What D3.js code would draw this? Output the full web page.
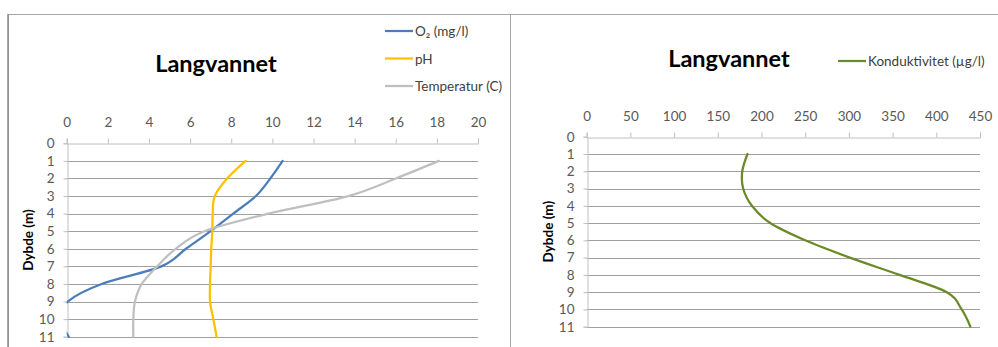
<!DOCTYPE html>
<html lang="no">
<head>
  <meta charset="UTF-8">
  <title>Langvannet</title>
  <script src="https://d3js.org/d3.v7.min.js"></script>
  <style>
    body { margin: 0; background: #fff; }
    svg { display: block; font-family: Lato, "Open Sans", sans-serif; }
  </style>
</head>
<body>
  <div id="chart"></div>
  <script>
    // data
    const depths = [1, 2, 3, 4, 5, 6, 7, 8, 9, 10, 11];
    const o2 = [10.5, 9.9, 9.2, 8.1, 7.0, 5.8, 4.6, 1.7, 0.05, -0.3, 0.1];
    const ph = [8.7, 7.8, 7.2, 7.1, 7.08, 7.03, 7.0, 6.97, 6.97, 7.13, 7.29];
    const temp = [18.1, 16.0, 13.7, 9.8, 6.7, 5.3, 4.4, 3.65, 3.32, 3.24, 3.24];
    const kond = [184, 178, 179, 189, 210, 250, 301, 358, 412, 429, 439];

    const depthTicks = d3.range(0, 12);
    const leftTicks = d3.range(0, 21, 2);
    const rightTicks = d3.range(0, 451, 50);

    const leftSeries = [
      { name: "O₂ (mg/l)", values: o2, color: "#4a7ebb" },
      { name: "pH", values: ph, color: "#ffc000" },
      { name: "Temperatur (C)", values: temp, color: "#bfbfbf" }
    ];
    const rightSeries = [
      { name: "Konduktivitet (µg/l)", values: kond, color: "#6b8a2a" }
    ];

    const width = 998, height = 347;
    const svg = d3.select("#chart").append("svg")
      .attr("width", width)
      .attr("height", height);

    // chart borders
    svg.append("path")
      .attr("d", "M8.5,347 V14.5 H510.5 V347")
      .attr("fill", "none").attr("stroke", "#a6a6a6").attr("stroke-width", 1);
    svg.append("line")
      .attr("x1", 8).attr("x2", 8).attr("y1", 14).attr("y2", 347)
      .attr("stroke", "#8c8c8c").attr("stroke-width", 1.5);
    svg.append("line")
      .attr("x1", 510).attr("x2", 998).attr("y1", 14.5).attr("y2", 14.5)
      .attr("stroke", "#a6a6a6");

    function drawChart(cfg) {
      const g = svg.append("g");
      const x = d3.scaleLinear().domain(cfg.xDomain).range(cfg.xRange);
      const y = d3.scaleLinear().domain([0, 11]).range(cfg.yRange);

      // gridlines
      g.append("g").selectAll("line")
        .data(depthTicks.filter(d => d > 0))
        .join("line")
        .attr("x1", cfg.xRange[0]).attr("x2", cfg.xRange[1])
        .attr("y1", d => Math.round(y(d)) + 0.5).attr("y2", d => Math.round(y(d)) + 0.5)
        .attr("stroke", "#a0a0a0");

      // top axis
      const xAxis = d3.axisTop(x).tickValues(cfg.xTicks).tickSize(5).tickPadding(12);
      const ax = g.append("g")
        .attr("transform", `translate(0,${Math.round(y(0)) + 0.5})`)
        .call(xAxis);
      ax.select(".domain").attr("stroke", "#c0c0c0");
      ax.selectAll(".tick line").attr("stroke", "#c0c0c0");
      ax.selectAll("text").attr("fill", "#595959").attr("font-size", 13.5)
        .attr("font-family", "Lato, sans-serif");

      // left axis
      const yAxis = d3.axisLeft(y).tickValues(depthTicks).tickSize(4).tickPadding(9);
      const ay = g.append("g")
        .attr("transform", `translate(${Math.round(x(0)) + 0.5},0)`)
        .call(yAxis);
      ay.select(".domain").attr("stroke", "#c0c0c0");
      ay.selectAll(".tick line").attr("stroke", "#c0c0c0");
      ay.selectAll("text").attr("fill", "#595959").attr("font-size", 13.5)
        .attr("font-family", "Lato, sans-serif");

      // y title
      g.append("text")
        .attr("transform", `translate(${cfg.yTitleX},${(cfg.yRange[0] + cfg.yRange[1]) / 2}) rotate(-90)`)
        .attr("text-anchor", "middle")
        .attr("dominant-baseline", "central")
        .attr("font-size", 13.5).attr("font-weight", "bold").attr("fill", "#000")
        .text("Dybde (m)");

      // chart title
      g.append("text")
        .attr("x", cfg.titleX).attr("y", cfg.titleY)
        .attr("text-anchor", "middle")
        .attr("font-size", 23.5).attr("font-weight", "bold").attr("fill", "#000")
        .text("Langvannet");

      // clip
      const clipId = "clip" + cfg.id;
      svg.append("clipPath").attr("id", clipId)
        .append("rect")
        .attr("x", cfg.xRange[0]).attr("y", cfg.yRange[0] - 2)
        .attr("width", cfg.xRange[1] - cfg.xRange[0] + 2)
        .attr("height", cfg.yRange[1] - cfg.yRange[0] + 4);

      const line = d3.line()
        .x(d => x(d[0]))
        .y(d => y(d[1]))
        .curve(d3.curveCatmullRom.alpha(0));

      g.append("g").attr("clip-path", `url(#${clipId})`)
        .selectAll("path")
        .data(cfg.series)
        .join("path")
        .attr("d", s => line(s.values.map((v, i) => [v, depths[i]])))
        .attr("fill", "none")
        .attr("stroke", s => s.color)
        .attr("stroke-width", 2.25)
        .attr("stroke-linecap", "round");

      // legend
      const lg = g.append("g").selectAll("g")
        .data(cfg.series)
        .join("g")
        .attr("transform", (s, i) => `translate(${cfg.legendX},${cfg.legendY + i * cfg.legendStep})`);
      lg.append("line")
        .attr("x1", 0).attr("x2", 28)
        .attr("stroke", s => s.color).attr("stroke-width", 2.25);
      lg.append("text")
        .attr("x", 30)
        .attr("dominant-baseline", "central")
        .attr("font-size", cfg.legendFont).attr("fill", "#404040")
        .text(s => s.name);
    }

    drawChart({
      id: "L",
      xDomain: [0, 20], xRange: [66.7, 478], xTicks: leftTicks,
      yRange: [143.3, 336.7],
      yTitleX: 28, titleX: 216, titleY: 72,
      series: leftSeries,
      legendX: 385, legendY: 31, legendStep: 27.5, legendFont: 13.5
    });

    drawChart({
      id: "R",
      xDomain: [0, 450], xRange: [586.7, 980], xTicks: rightTicks,
      yRange: [136.7, 326.7],
      yTitleX: 548, titleX: 729, titleY: 67,
      series: rightSeries,
      legendX: 838, legendY: 61, legendStep: 0, legendFont: 13.5
    });
  </script>
</body>
</html>
